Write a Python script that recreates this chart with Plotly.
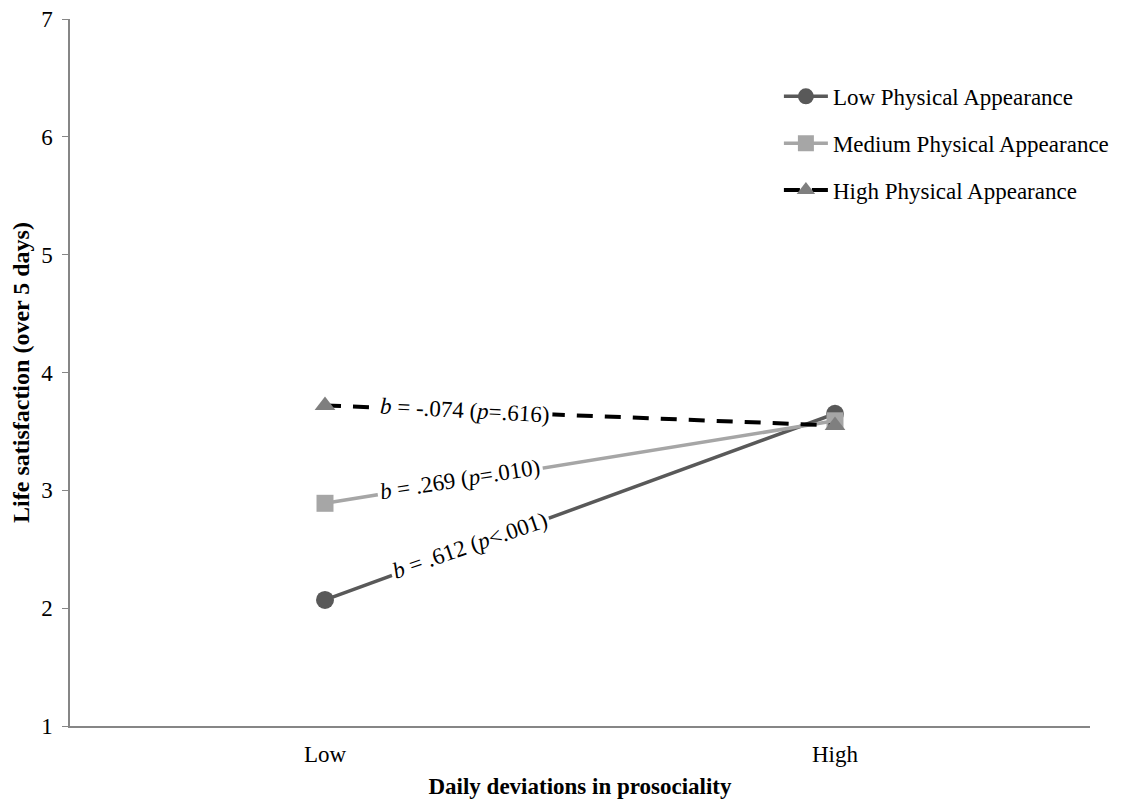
import plotly.graph_objects as go

categories = ["Low", "High"]
series_names = ["Low Physical Appearance", "Medium Physical Appearance", "High Physical Appearance"]
low_pa = [2.07, 3.65]
medium_pa = [2.89, 3.59]
high_pa = [3.72, 3.55]
annot_texts = ["<i>b</i> = .612 (<i>p</i><.001)", "<i>b</i> = .269 (<i>p</i>=.010)", "<i>b</i> = -.074 (<i>p</i>=.616)"]
annot_pos = [(0.284, 2.53, -19), (0.265, 3.09, -9), (0.275, 3.68, 3)]
y_ticks = [1, 2, 3, 4, 5, 6, 7]

FONT = "Times New Roman, Liberation Serif, serif"

fig = go.Figure()
styles = [
    dict(line=dict(color="#595959", width=3.5), marker=dict(symbol="circle", size=18, color="#595959")),
    dict(line=dict(color="#a6a6a6", width=3.5), marker=dict(symbol="square", size=17, color="#a6a6a6")),
    dict(line=dict(color="#000000", width=4, dash="16px,12px"), marker=dict(symbol="triangle-up", size=18, color="#7f7f7f")),
]
for i, (name, vals) in enumerate(zip(series_names, [low_pa, medium_pa, high_pa])):
    fig.add_trace(go.Scatter(x=[0, 1], y=vals, mode="lines+markers", name=name,
                             legendgroup=f"g{i}", **styles[i]))

for (x, y, ang), t in zip(annot_pos, annot_texts):
    fig.add_annotation(x=x, y=y, xref="x", yref="y", text=t, showarrow=False,
                       textangle=ang, bgcolor="white", borderpad=2,
                       font=dict(family=FONT, size=23, color="black"))

# page body has an 8px margin, so the figure is sized/offset to compensate
fig.update_layout(
    width=1117, height=794,
    margin=dict(l=62, r=35, t=11, b=76, autoexpand=False),
    plot_bgcolor="white", paper_bgcolor="white",
    font=dict(family=FONT, size=23, color="black"),
    showlegend=True,
    legend=dict(x=0.695, y=0.921, xanchor="left", yanchor="top",
                font=dict(family=FONT, size=23), tracegroupgap=14,
                itemwidth=44, bgcolor="rgba(0,0,0,0)"),
    xaxis=dict(range=[-0.5, 1.5], tickvals=[0, 1], ticktext=categories,
               showline=True, linecolor="#868686", linewidth=1.5,
               showgrid=False, zeroline=False, ticks="", automargin=False,
               ticklabelstandoff=7, ticklabeloverflow="allow",
               tickfont=dict(family=FONT, size=23),
               title=dict(text="<b>Daily deviations in prosociality</b>", font=dict(family=FONT, size=23), standoff=12)),
    yaxis=dict(range=[1, 7], tickvals=y_ticks,
               showline=True, linecolor="#868686", linewidth=1.5,
               showgrid=False, zeroline=False, ticks="outside", ticklen=6, tickcolor="#868686",
               automargin=False, ticklabelstandoff=5, ticklabeloverflow="allow",
               tickfont=dict(family=FONT, size=23),
               title=dict(text="<b>Life satisfaction (over 5 days)</b>", font=dict(family=FONT, size=24), standoff=12)),
)

fig.write_html("out.html")
